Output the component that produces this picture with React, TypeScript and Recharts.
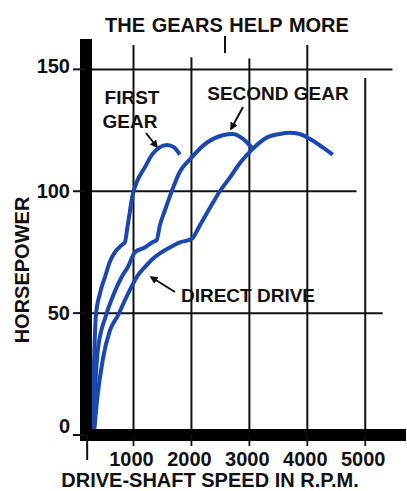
import React from "react";
import {
  LineChart,
  Line,
  XAxis,
  YAxis,
  ReferenceLine,
  Customized,
} from "recharts";

// drive-shaft speed (rpm) / horsepower
const firstGearRpm = [290, 300, 320, 350, 420, 510, 590, 680, 800, 850, 900, 990, 1060, 1200, 1320, 1450, 1580, 1700, 1800];
const firstGearHp = [0, 14, 31, 49, 58, 65, 71, 75, 78, 79, 86, 99, 104, 110, 115, 118, 119, 118, 115];

const secondGearRpm = [300, 335, 385, 525, 645, 800, 905, 1025, 1200, 1320, 1400, 1455, 1540, 1660, 1800, 1970, 2270, 2540, 2710, 2890, 3040];
const secondGearHp = [0, 18, 35, 49, 57, 65, 69, 75, 77, 79, 80, 86, 92, 100, 108, 113, 120, 123, 123.5, 121.5, 118];

const directDriveRpm = [317, 370, 470, 595, 730, 885, 1075, 1200, 1320, 1455, 1595, 1800, 2005, 2145, 2315, 2490, 2660, 2835, 3040, 3300, 3525, 3695, 3870, 4040, 4265, 4440];
const directDriveHp = [0, 14, 31, 43, 49, 57, 65.5, 69, 72, 74.5, 76.5, 79, 80.5, 86, 93, 100, 105.5, 111.5, 117, 122, 123.5, 124, 123.5, 121.5, 118, 115];

const xTicks = [200, 1000, 2000, 3000, 4000, 5000];
const yTicks = [0, 50, 100, 150];

// vertical grid strokes: rpm and how high each one reaches (hp)
const vGridRpm = [1000, 2000, 3000, 4000, 5000];
const vGridTop = [160, 155, 154.5, 160, 146.5];
// horizontal grid strokes: hp and where each one stops (rpm)
const hGridHp = [150, 100, 50];
const hGridEnd = [5470, 4850, 5300];

const toPoints = (rpm: number[], hp: number[]) =>
  rpm.map((r, i) => ({ rpm: r, hp: hp[i] }));

const firstGear = toPoints(firstGearRpm, firstGearHp);
const secondGear = toPoints(secondGearRpm, secondGearHp);
const directDrive = toPoints(directDriveRpm, directDriveHp);

const BLUE = "#1a47b0";
const INK = "#111";
const FONT = "'Liberation Sans', Arial, sans-serif";

const halo = {
  stroke: "#fff",
  strokeWidth: 8,
  strokeLinejoin: "round" as const,
  paintOrder: "stroke" as const,
};

function XTick(props: any) {
  const { x, y, payload } = props;
  if (payload.value === 200) {
    return <line x1={x} x2={x} y1={y} y2={y + 25} stroke={INK} strokeWidth={2} />;
  }
  return (
    <g>
      <line x1={x} x2={x} y1={y} y2={y + 11} stroke={INK} strokeWidth={1.8} />
      <text x={x - 2} y={y + 31} textAnchor="middle" fill={INK} fontFamily={FONT} fontWeight="bold" fontSize={20}>
        {payload.value}
      </text>
    </g>
  );
}

function YTick(props: any) {
  const { x, y, payload } = props;
  const dy = payload.value === 0 ? -9 : payload.value === 150 ? -3 : 0;
  return (
    <text x={x} y={y + dy} dy={7} textAnchor="end" fill={INK} fontFamily={FONT} fontWeight="bold" fontSize={20}>
      {payload.value}
    </text>
  );
}

function Annotations() {
  const txt = { fill: INK, fontFamily: FONT, fontWeight: "bold" as const, fontSize: 19, ...halo };
  return (
    <g>
      <defs>
        <marker id="arrowHead" viewBox="0 0 10 10" refX="8" refY="5" markerWidth="8" markerHeight="8" markerUnits="userSpaceOnUse" orient="auto">
          <path d="M0,0 L10,5 L0,10 z" fill={INK} />
        </marker>
      </defs>
      <text x={227} y={32} textAnchor="middle" fill={INK} fontFamily={FONT} fontWeight="bold" fontSize={20} wordSpacing={1}>
        THE GEARS HELP MORE
      </text>
      <line x1={225} x2={225} y1={36} y2={53} stroke={INK} strokeWidth={2} />
      <text x={22} y={270} transform="rotate(-90 22 270)" textAnchor="middle" dominantBaseline="central" fill={INK} fontFamily={FONT} fontWeight="bold" fontSize={20}>
        HORSEPOWER
      </text>
      <text x={210} y={487} textAnchor="middle" fill={INK} fontFamily={FONT} fontWeight="bold" fontSize={20}>
        DRIVE-SHAFT SPEED IN R.P.M.
      </text>

      <text x={132} y={104} textAnchor="middle" {...txt}>FIRST</text>
      <text x={130} y={128} textAnchor="middle" {...txt}>GEAR</text>
      <line x1={146} y1={133} x2={157} y2={147} stroke={INK} strokeWidth={2} markerEnd="url(#arrowHead)" />

      <text x={278} y={100} textAnchor="middle" {...txt}>SECOND GEAR</text>
      <line x1={243} y1={107} x2={231} y2={129} stroke={INK} strokeWidth={2} markerEnd="url(#arrowHead)" />

      <text x={248} y={302} textAnchor="middle" {...txt}>DIRECT DRIVE</text>
      <line x1={175} y1={292} x2={151} y2={277} stroke={INK} strokeWidth={2} markerEnd="url(#arrowHead)" />
    </g>
  );
}

export default function App() {
  return (
    <div style={{ position: "absolute", left: 0, top: 0, width: 407, height: 491, background: "#fff" }}>
      <LineChart width={407} height={491} margin={{ top: 45, right: 7, bottom: 0, left: 0 }}>
        <XAxis
          type="number"
          dataKey="rpm"
          domain={[180, 5600]}
          ticks={xTicks}
          height={56}
          axisLine={{ stroke: "#000", strokeWidth: 12, strokeLinecap: "square" }}
          tickLine={false}
          tickSize={0}
          tickMargin={0}
          tick={<XTick />}
          interval={0}
        />
        <YAxis
          type="number"
          dataKey="hp"
          domain={[0, 160]}
          ticks={yTicks}
          width={86}
          axisLine={{ stroke: "#000", strokeWidth: 12, strokeLinecap: "square" }}
          tickLine={{ stroke: INK, strokeWidth: 2 }}
          tickSize={13}
          tickMargin={3}
          tick={<YTick />}
          interval={0}
        />
        {hGridHp.map((hp, i) => (
          <ReferenceLine
            key={`h-${hp}`}
            segment={[{ x: 180, y: hp }, { x: hGridEnd[i], y: hp }]}
            stroke={INK}
            strokeWidth={2}
            strokeOpacity={1}
            ifOverflow="visible"
          />
        ))}
        {vGridRpm.map((rpm, i) => (
          <ReferenceLine
            key={`v-${rpm}`}
            segment={[{ x: rpm, y: 0 }, { x: rpm, y: vGridTop[i] }]}
            stroke={INK}
            strokeWidth={2}
            strokeOpacity={1}
            ifOverflow="visible"
          />
        ))}
        <Customized component={<Annotations />} />
        <Line data={firstGear} dataKey="hp" type="monotone" stroke={BLUE} strokeWidth={4} dot={false} isAnimationActive={false} />
        <Line data={secondGear} dataKey="hp" type="monotone" stroke={BLUE} strokeWidth={4} dot={false} isAnimationActive={false} />
        <Line data={directDrive} dataKey="hp" type="monotone" stroke={BLUE} strokeWidth={4} dot={false} isAnimationActive={false} />
      </LineChart>
    </div>
  );
}
